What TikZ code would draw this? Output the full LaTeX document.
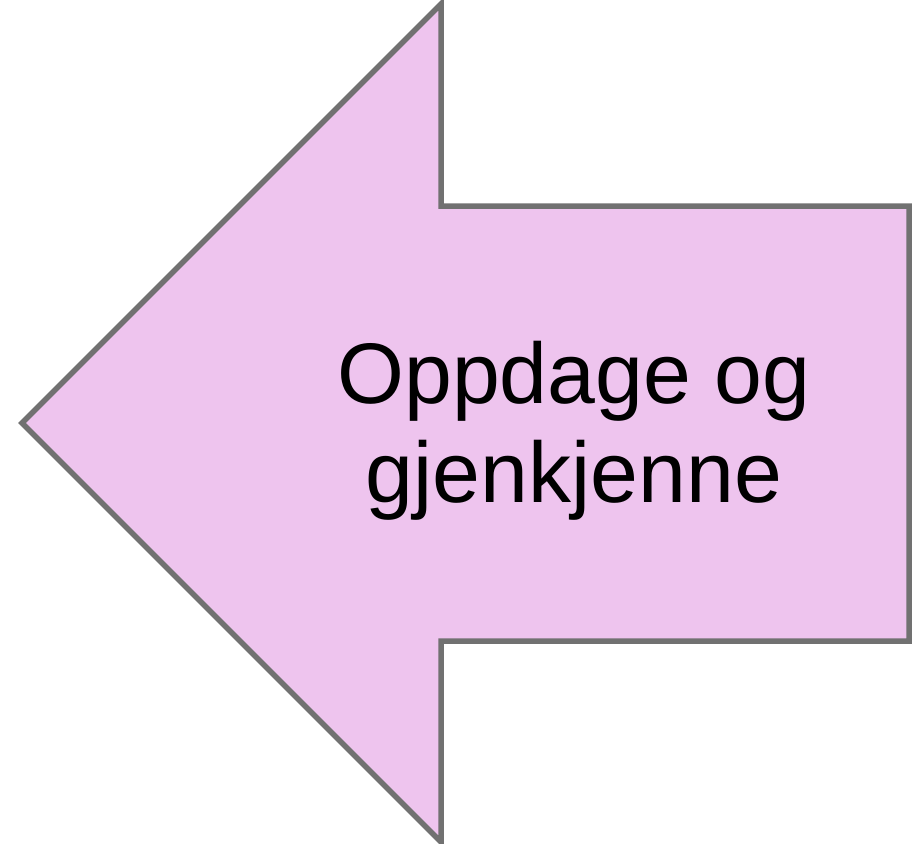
\documentclass[tikz,border=0pt]{standalone}
\usepackage{fontspec}
\setmainfont{Liberation Sans}
\definecolor{arrowfill}{HTML}{EEC4EE}
\definecolor{arrowline}{HTML}{717171}
\tikzset{
  bigarrow/.style={fill=arrowfill, draw=arrowline, line width=5.5pt, line join=miter},
  label/.style={align=center, font=\fontsize{86pt}{99pt}\selectfont, text=black, inner sep=0pt}
}
\begin{document}
\begin{tikzpicture}[x=1pt,y=-1pt]
\useasboundingbox (0,0) rectangle (917,843);
\draw[bigarrow] (22,423) -- (441,4) -- (441,206) -- (909,206) -- (909,641) -- (441,641) -- (441,842) -- cycle;
\node[label] (txt) at (574,431) {Oppdage og\\gjenkjenne};
\end{tikzpicture}
\end{document}
